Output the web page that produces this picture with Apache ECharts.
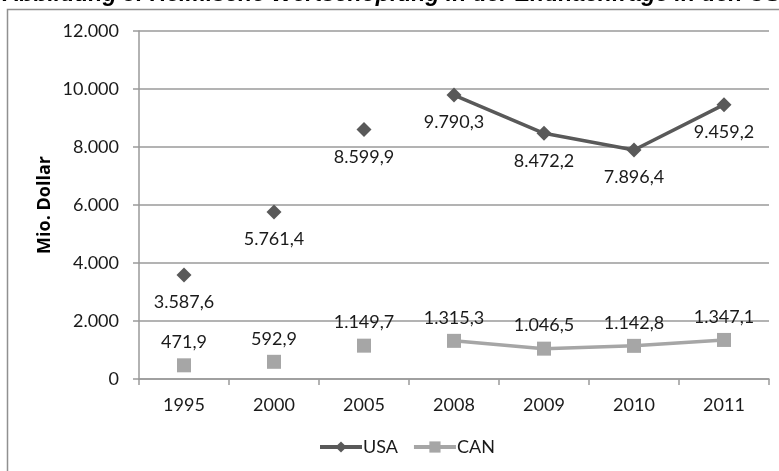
<!DOCTYPE html>
<html>
<head>
<meta charset="utf-8">
<script src="https://cdn.jsdelivr.net/npm/echarts@6/dist/echarts.min.js"></script>
<style>
  html, body { margin: 0; padding: 0; background: #fff; }
  #chart { width: 779px; height: 471px; }
</style>
</head>
<body>
<div id="chart"></div>
<script>
// Years on the category axis
const years = ['1995', '2000', '2005', '2008', '2009', '2010', '2011'];
// Domestic value added in final demand, million dollars
const usaValues = [3587.6, 5761.4, 8599.9, 9790.3, 8472.2, 7896.4, 9459.2];
const canValues = [471.9, 592.9, 1149.7, 1315.3, 1046.5, 1142.8, 1347.1];
// Only the annual series (2008 onwards) is joined by a line
const firstJoinedIndex = 3;
const yTicks = [0, 2000, 4000, 6000, 8000, 10000, 12000];

const titleText = 'Abbildung 3: Heimische Wertschöpfung in der Endnachfrage in den USA und Kanada';
const yAxisTitle = 'Mio. Dollar';

// German number formatting: "." thousands, "," decimals
function deNumber(v, decimals) {
  const fixed = v.toFixed(decimals);
  const parts = fixed.split('.');
  const intPart = parts[0].replace(/\B(?=(\d{3})+(?!\d))/g, '.');
  return parts.length > 1 ? intPart + ',' + parts[1] : intPart;
}

const USA_COLOR = '#595959';
const CAN_COLOR = '#a6a6a6';
const FONT = 'Lato';

const joined = arr => arr.map((v, i) => (i >= firstJoinedIndex ? v : null));
const loose = arr => arr.map((v, i) => (i < firstJoinedIndex ? v : null));

function labelCfg(pos, dist) {
  return {
    show: true,
    position: pos,
    distance: dist,
    color: '#1a1a1a',
    fontFamily: FONT,
    fontSize: 18,
    formatter: p => deNumber(p.value, 1)
  };
}

const chart = echarts.init(document.getElementById('chart'), null, { renderer: 'canvas' });

chart.setOption({
  animation: false,
  backgroundColor: '#ffffff',
  textStyle: { fontFamily: FONT },
  graphic: [
    {
      type: 'text',
      left: 3,
      top: -17,
      silent: true,
      style: {
        text: titleText,
        font: 'italic bold 23px "Liberation Sans", Arial, sans-serif',
        fill: '#000'
      }
    },
    {
      // vertical value-axis title
      type: 'text',
      x: 45,
      y: 205,
      rotation: Math.PI / 2,
      silent: true,
      style: {
        text: yAxisTitle,
        fontFamily: '"Open Sans"',
        fontSize: 18,
        fontWeight: 'bold',
        fill: '#000',
        align: 'center',
        verticalAlign: 'middle'
      }
    },
    {
      type: 'rect',
      silent: true,
      shape: { x: 7.5, y: 9.5, width: 800, height: 500 },
      style: { fill: 'none', stroke: '#909090', lineWidth: 1.5 }
    }
  ],
  grid: { left: 139, right: 10, top: 31, bottom: 92, containLabel: false },
  legend: {
    data: ['USA', 'CAN'],
    left: 313,
    top: 433,
    itemWidth: 42,
    itemHeight: 14,
    itemGap: 14,
    lineStyle: { width: 4 },
    textStyle: { fontFamily: FONT, fontSize: 18, color: '#1a1a1a', padding: [0, 0, 0, -4] }
  },
  xAxis: {
    type: 'category',
    data: years,
    boundaryGap: true,
    axisLine: { lineStyle: { color: '#9a9a9a', width: 1.5 } },
    axisTick: { show: true, length: 6, alignWithLabel: false, lineStyle: { color: '#9a9a9a', width: 1.5 } },
    axisLabel: { margin: 17, fontFamily: FONT, fontSize: 18, color: '#1a1a1a' }
  },
  yAxis: {
    type: 'value',
    min: yTicks[0],
    max: yTicks[yTicks.length - 1],
    interval: yTicks[1] - yTicks[0],
    axisLine: { show: true, lineStyle: { color: '#9a9a9a', width: 1.5 } },
    axisTick: { show: true, length: 6, lineStyle: { color: '#9a9a9a', width: 1.5 } },
    axisLabel: {
      margin: 20,
      fontFamily: FONT,
      fontSize: 18,
      color: '#1a1a1a',
      formatter: v => deNumber(v, 0)
    },
    splitLine: { show: true, lineStyle: { color: '#9a9a9a', width: 1.5 } }
  },
  series: [
    {
      name: 'USA',
      type: 'line',
      data: joined(usaValues),
      symbol: 'diamond',
      symbolSize: 15,
      showAllSymbol: true,
      itemStyle: { color: USA_COLOR },
      lineStyle: { color: USA_COLOR, width: 3.5 },
      label: labelCfg('bottom', 11),
      z: 3
    },
    {
      name: 'CAN',
      type: 'line',
      data: joined(canValues),
      symbol: 'rect',
      symbolSize: 14,
      showAllSymbol: true,
      itemStyle: { color: CAN_COLOR },
      lineStyle: { color: CAN_COLOR, width: 3.5 },
      label: labelCfg('top', 7),
      z: 2
    },
    {
      name: 'USA',
      type: 'scatter',
      data: loose(usaValues),
      symbol: 'diamond',
      symbolSize: 15,
      itemStyle: { color: USA_COLOR, opacity: 1 },
      label: labelCfg('bottom', 11),
      z: 3
    },
    {
      name: 'CAN',
      type: 'scatter',
      data: loose(canValues),
      symbol: 'rect',
      symbolSize: 14,
      itemStyle: { color: CAN_COLOR, opacity: 1 },
      label: labelCfg('top', 7),
      z: 2
    }
  ]
});
</script>
</body>
</html>
